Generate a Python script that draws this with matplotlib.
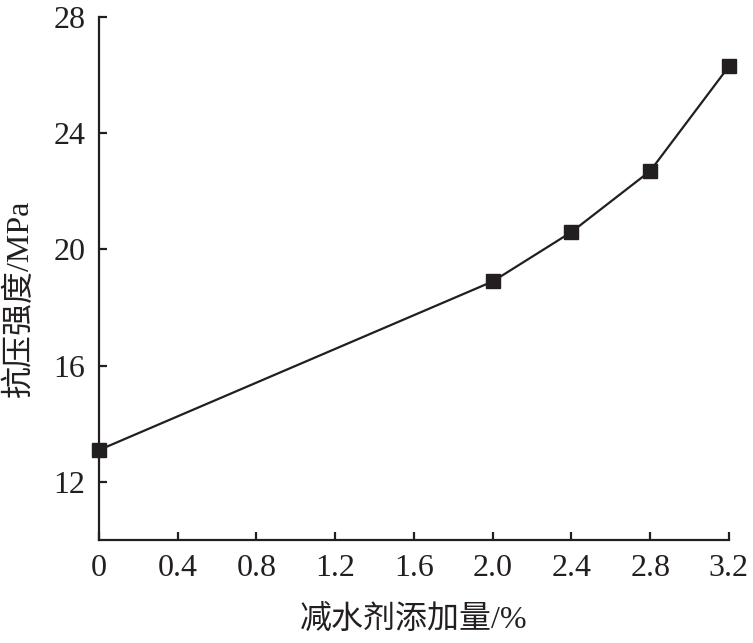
import matplotlib
matplotlib.use("Agg")
import matplotlib.pyplot as plt

# water reducer dosage (%) vs compressive strength (MPa)
dosage = [0, 2.0, 2.4, 2.8, 3.2]
strength = [13.1, 18.9, 20.6, 22.7, 26.3]
xticks = [0, 0.4, 0.8, 1.2, 1.6, 2.0, 2.4, 2.8, 3.2]
xticklabels = ["0", "0.4", "0.8", "1.2", "1.6", "2.0", "2.4", "2.8", "3.2"]
yticks = [12, 16, 20, 24, 28]

plt.rcParams['font.family'] = ['Liberation Serif', 'Noto Sans CJK SC']
ink = "#231f20"

fig = plt.figure(figsize=(7.53, 6.43), dpi=100)
ax = fig.add_axes([0.1315, 0.160, 0.8365, 0.8136])

ax.plot(dosage, strength, color=ink, linewidth=1.6, marker="s",
        markersize=10, markerfacecolor=ink, markeredgecolor=ink, clip_on=False)

ax.set_xlim(0, 3.2)
ax.set_ylim(10, 28)
ax.set_xticks(xticks)
ax.set_xticklabels(xticklabels)
ax.set_yticks(yticks)

for s in ["top", "right"]:
    ax.spines[s].set_visible(False)
for s in ["left", "bottom"]:
    ax.spines[s].set_linewidth(1.6)
    ax.spines[s].set_color(ink)

ax.tick_params(direction="in", length=6, width=1.6, colors=ink,
               labelsize=23, pad=10)

ax.set_xlabel("减水剂添加量/%", fontsize=23, color=ink)
ax.set_ylabel("抗压强度/MPa", fontsize=23, color=ink)
ax.xaxis.set_label_coords(0.5, -0.124)
ax.yaxis.set_label_coords(-0.102, 0.46)

fig.savefig("out.png", dpi=100)
